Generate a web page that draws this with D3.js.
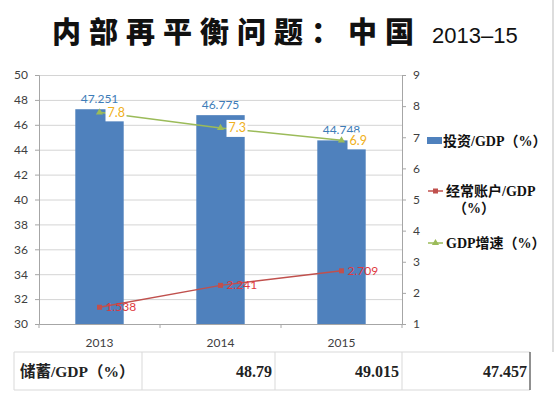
<!DOCTYPE html>
<meta charset="utf-8">
<html>
<head>
  <title>内部再平衡问题</title>
  <script src="https://cdn.jsdelivr.net/npm/d3@7"></script>
</head>
<style>
  body { margin: 0; background: #fff; }
  svg { display: block; }
  .tick text { font-family: Lato, "Open Sans", sans-serif; font-size: 12px; fill: #404040; }
</style>
<body>
</body>
<script>

  // data
  var years = ["2013", "2014", "2015"];
  var investment = [47.251, 46.775, 44.748];      // 投资/GDP (left axis)
  var currentAccount = [1.538, 2.241, 2.709];     // 经常账户/GDP (right axis)
  var gdpGrowth = [7.8, 7.3, 6.9];                // GDP增速 (right axis)
  var savings = [48.79, 49.015, 47.457];          // 储蓄/GDP table row
  var leftTicks = [30, 32, 34, 36, 38, 40, 42, 44, 46, 48, 50];
  var rightTicks = [1, 2, 3, 4, 5, 6, 7, 8, 9];

  var blue = "#4F81BD", red = "#C0504D", green = "#9BBB59";
  var serif = "'Liberation Serif', 'Noto Sans CJK SC', serif";

  var svg = d3.select("body").append("svg")
      .attr("width", 556)
      .attr("height", 398);

  //title
  svg.append("text")
      .attr("x", 52).attr("y", 43)
      .attr("font-family", "'Noto Sans CJK SC'")
      .attr("font-weight", 900)
      .attr("font-size", 29)
      .attr("letter-spacing", 8)
      .attr("fill", "#111")
      .text("内部再平衡问题：中国");
  svg.append("text")
      .attr("x", 432).attr("y", 43)
      .attr("font-family", "'Liberation Sans', Arial, sans-serif")
      .attr("font-size", 22)
      .attr("fill", "#111")
      .text("2013–15");

  // right border line
  svg.append("line")
      .attr("x1", 553).attr("x2", 553).attr("y1", 0).attr("y2", 352)
      .attr("stroke", "#bbb");

  //scales
  var x = d3.scaleBand().domain(years).range([39, 402]).paddingInner(0.6).paddingOuter(0.3);
  var yL = d3.scaleLinear().domain([30, 50]).range([324, 75]);
  var yR = d3.scaleLinear().domain([1, 9]).range([324, 75]);
  var cx = function (d) { return x(d) + x.bandwidth() / 2; };

  //gridlines
  svg.append("g")
      .attr("transform", "translate(39,0)")
      .call(d3.axisLeft(yL).tickValues(leftTicks.slice(1)).tickSize(-363).tickFormat(""))
      .call(function (g) {
        g.select(".domain").remove();
        g.selectAll("line").attr("stroke", "#D4D4D4");
      });

  //axes
  var leftAxis = svg.append("g")
      .attr("transform", "translate(39,0)")
      .call(d3.axisLeft(yL).tickValues(leftTicks).tickSize(4).tickPadding(7));
  var rightAxis = svg.append("g")
      .attr("transform", "translate(402,0)")
      .call(d3.axisRight(yR).tickValues(rightTicks).tickSize(4).tickPadding(7));
  var bottomAxis = svg.append("g")
      .attr("transform", "translate(0,324)")
      .call(d3.axisBottom(x).tickSize(0).tickPadding(14));

  [leftAxis, rightAxis, bottomAxis].forEach(function (g) {
    g.select(".domain").attr("stroke", "#A6A6A6");
    g.selectAll(".tick line").attr("stroke", "#A6A6A6");
  });

  // category boundary ticks on the x axis
  var bounds = years.map(function (d) { return x(d) - x.step() * x.paddingInner() / 2; });
  bounds.push(402);
  svg.selectAll("x-sep")
      .data(bounds)
      .enter()
        .append("line")
        .attr("x1", function (d) { return d; })
        .attr("x2", function (d) { return d; })
        .attr("y1", 324).attr("y2", 328)
        .attr("stroke", "#A6A6A6");

  //bars
  svg.selectAll("bar")
      .data(investment)
      .enter()
        .append("rect")
        .attr("x", function (d, i) { return x(years[i]); })
        .attr("width", x.bandwidth())
        .attr("y", function (d) { return yL(d); })
        .attr("height", function (d) { return yL(30) - yL(d); })
        .attr("fill", blue);

  svg.selectAll("bar-label")
      .data(investment)
      .enter()
        .append("text")
        .attr("x", function (d, i) { return cx(years[i]); })
        .attr("y", function (d) { return yL(d) - 6; })
        .attr("text-anchor", "middle")
        .attr("font-family", "Lato, 'Open Sans', sans-serif")
        .attr("font-size", 12)
        .attr("fill", "#3D7CB8")
        .text(function (d) { return d; });

  //lines
  var lineCA = d3.line()
      .x(function (d, i) { return cx(years[i]); })
      .y(function (d) { return yR(d); });

  svg.append("path")
      .attr("d", lineCA(currentAccount))
      .attr("fill", "none")
      .attr("stroke", red)
      .attr("stroke-width", 1.5);

  svg.append("path")
      .attr("d", lineCA(gdpGrowth))
      .attr("fill", "none")
      .attr("stroke", green)
      .attr("stroke-width", 1.5);

  svg.selectAll("ca-mark")
      .data(currentAccount)
      .enter()
        .append("rect")
        .attr("x", function (d, i) { return cx(years[i]) - 2.5; })
        .attr("y", function (d) { return yR(d) - 2.5; })
        .attr("width", 5).attr("height", 5)
        .attr("fill", red);

  svg.selectAll("gdp-mark")
      .data(gdpGrowth)
      .enter()
        .append("path")
        .attr("transform", function (d, i) { return "translate(" + cx(years[i]) + "," + yR(d) + ")"; })
        .attr("d", d3.symbol(d3.symbolTriangle, 22))
        .attr("fill", green);

  // current account labels
  svg.selectAll("ca-label")
      .data(currentAccount)
      .enter()
        .append("text")
        .attr("x", function (d, i) { return cx(years[i]) + 6; })
        .attr("y", function (d) { return yR(d) + 4; })
        .attr("font-family", "Lato, 'Open Sans', sans-serif")
        .attr("font-size", 12)
        .attr("fill", "#E0393E")
        .text(function (d) { return d; });

  // gdp growth labels with white boxes
  svg.selectAll("gdp-box")
      .data(gdpGrowth)
      .enter()
        .append("rect")
        .attr("x", function (d, i) { return cx(years[i]) + 6; })
        .attr("y", function (d) { return yR(d) - 8; })
        .attr("width", 21).attr("height", 17)
        .attr("fill", "#fff");

  svg.selectAll("gdp-label")
      .data(gdpGrowth)
      .enter()
        .append("text")
        .attr("x", function (d, i) { return cx(years[i]) + 8; })
        .attr("y", function (d) { return yR(d) + 4.5; })
        .attr("font-family", "Lato, 'Open Sans', sans-serif")
        .attr("font-size", 12.5)
        .attr("fill", "#F0B020")
        .text(function (d) { return d; });

  //legend
  var lg = svg.append("g").attr("font-family", serif).attr("font-weight", "bold").attr("font-size", 14).attr("fill", "#111");

  lg.append("rect").attr("x", 427).attr("y", 137).attr("width", 15).attr("height", 7).attr("fill", blue);
  lg.append("text").attr("x", 443).attr("y", 146).text("投资/GDP（%）");

  lg.append("line").attr("x1", 428).attr("x2", 443).attr("y1", 191).attr("y2", 191).attr("stroke", red).attr("stroke-width", 1.5);
  lg.append("rect").attr("x", 433).attr("y", 188.5).attr("width", 5).attr("height", 5).attr("fill", red);
  lg.append("text").attr("x", 446).attr("y", 196).text("经常账户/GDP");
  lg.append("text").attr("x", 453).attr("y", 213).text("（%）");

  lg.append("line").attr("x1", 428).attr("x2", 443).attr("y1", 243).attr("y2", 243).attr("stroke", green).attr("stroke-width", 1.5);
  lg.append("path").attr("transform", "translate(435.5,243)").attr("d", d3.symbol(d3.symbolTriangle, 22)).attr("fill", green);
  lg.append("text").attr("x", 446).attr("y", 248).text("GDP增速（%）");

  //table
  var cols = [14, 142, 275, 402, 530];
  var tbl = svg.append("g");
  tbl.selectAll("hline")
      .data([352, 390])
      .enter()
        .append("line")
        .attr("x1", 14).attr("x2", 530)
        .attr("y1", function (d) { return d; })
        .attr("y2", function (d) { return d; })
        .attr("stroke", "#D9D9D9");
  tbl.selectAll("vline")
      .data(cols)
      .enter()
        .append("line")
        .attr("x1", function (d) { return d; })
        .attr("x2", function (d) { return d; })
        .attr("y1", 352).attr("y2", 390)
        .attr("stroke", function (d, i) { return i == 4 ? "#222" : "#D9D9D9"; });

  tbl.append("text")
      .attr("x", 20).attr("y", 377)
      .attr("font-family", serif).attr("font-weight", "bold").attr("font-size", 15.5)
      .attr("fill", "#222")
      .text("储蓄/GDP（%）");

  tbl.selectAll("sav")
      .data(savings)
      .enter()
        .append("text")
        .attr("x", function (d, i) { return cols[i + 2] - 3; })
        .attr("y", 377)
        .attr("text-anchor", "end")
        .attr("font-family", serif).attr("font-weight", "bold").attr("font-size", 16)
        .attr("fill", "#222")
        .text(function (d) { return d; });

</script>
</html>
